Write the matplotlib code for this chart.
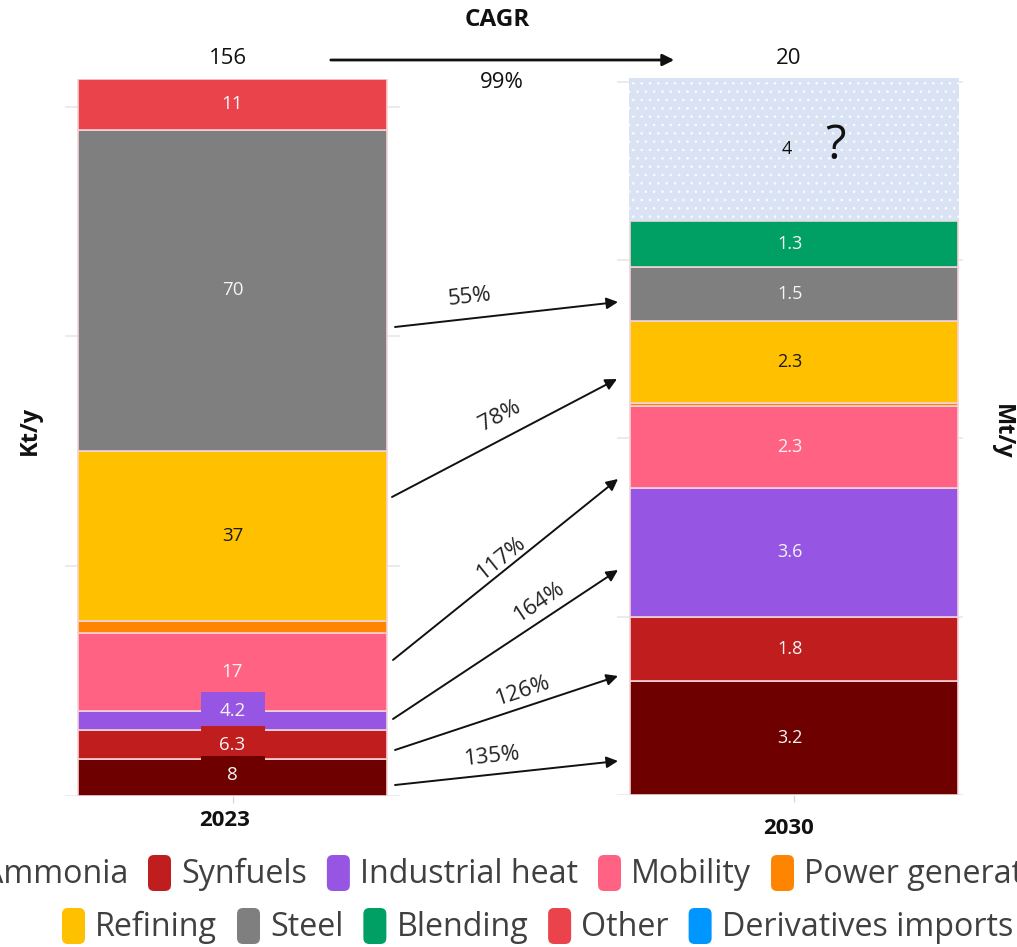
import math
import matplotlib
matplotlib.use("Agg")
import matplotlib.pyplot as plt
from matplotlib.patches import FancyBboxPatch, FancyArrowPatch, Rectangle
from matplotlib.transforms import IdentityTransform

plt.rcParams["font.family"] = ["Open Sans", "DejaVu Sans"]
plt.rcParams["hatch.linewidth"] = 0.6

# ---- data -------------------------------------------------------------
categories = ["Ammonia", "Synfuels", "Industrial heat", "Mobility",
              "Power generation", "Refining", "Steel", "Blending",
              "Other", "Derivatives imports"]
colors = ["#6f0000", "#c01e1e", "#9655e3", "#ff6283", "#ff8400",
          "#ffc000", "#7f7f7f", "#00a064", "#ea434b", "#0096ff"]
label_colors = ["#f4f4f4", "#f4f4f4", "#f4f4f4", "#f4f4f4", "#f4f4f4",
                "#1a1a1a", "#f4f4f4", "#f4f4f4", "#f4f4f4", "#f4f4f4"]

values_2023 = [8, 6.3, 4.2, 17, 2.5, 37, 70, 0, 11, 0]       # kt/y
values_2030 = [3.2, 1.8, 3.6, 2.3, 0.1, 2.3, 1.5, 1.3, 0, 0]  # Mt/y
unallocated_2030 = 4                                          # Mt/y, not yet assigned
total_2023 = 156
total_2030 = 20
years = ["2023", "2030"]
cagr_total = "99%"
cagr_labels = ["135%", "126%", "164%", "117%", "78%", "55%"]

# ---- figure -------------------------------------------------------------
W, H = 1017, 947
fig = plt.figure(figsize=(W / 100, H / 100), dpi=100)


def fx(x):
    return x / W


def fy(y):
    return 1 - y / H


GRID = "#e8e8e8"
EDGE = "#f3d3d8"


def style_axis(ax, ymax, ticks, bar_x):
    ax.set_ylim(0, ymax)
    ax.set_xlim(-0.5, 0.5)
    ax.set_yticks(ticks)
    ax.yaxis.grid(True, color=GRID, lw=1.2)
    ax.set_axisbelow(True)
    ax.tick_params(axis="y", length=0, labelleft=False)
    ax.set_xticks([bar_x])
    ax.set_xticklabels([])
    ax.tick_params(axis="x", length=5, color="#d9d9d9", width=1)
    for s in ax.spines.values():
        s.set_visible(False)


# left: 2023 in kt/y
axL = fig.add_axes([fx(65), fy(796), (400 - 65) / W, (796 - 79) / H])
style_axis(axL, total_2023, [0, 50, 100, 150], 0.0)

# right: 2030 in Mt/y
top_2030 = sum(values_2030) + unallocated_2030
axR = fig.add_axes([fx(617), fy(795), (963 - 617) / W, (795 - 78) / H])
style_axis(axR, top_2030, [0, 5, 10, 15, 20], 0.0116)

# 2023 stack
bottom = 0.0
seg_2023 = []
for v, c in zip(values_2023, colors):
    if v > 0:
        axL.bar(0.0, v, width=0.922, bottom=bottom, color=c,
                edgecolor=EDGE, linewidth=1.2, zorder=2)
    seg_2023.append((bottom, v))
    bottom += v

# 2030 stack
bottom = 0.0
seg_2030 = []
for v, c in zip(values_2030, colors):
    if v > 0:
        axR.bar(0.0116, v, width=0.948, bottom=bottom, color=c,
                edgecolor=EDGE, linewidth=1.2, zorder=2)
    seg_2030.append((bottom, v))
    bottom += v
axR.bar(0.0116, unallocated_2030, width=0.955, bottom=bottom,
        color="#dae3f3", edgecolor="#fbfcfe", linewidth=0, hatch="..",
        zorder=2)
unalloc_mid = bottom + unallocated_2030 / 2

# ---- segment labels ------------------------------------------------------
FS = 13.5
# small 2023 segments get a boxed label; offsets keep boxes from crowding
boxed_offsets = {2: 2.0, 1: 0.0, 0: 0.6}
for i in [6, 5, 8, 3]:
    b, v = seg_2023[i]
    axL.text(0.0, b + v / 2, f"{v:g}", ha="center", va="center",
             color=label_colors[i], fontsize=FS, zorder=5)
for i in [2, 1, 0]:
    b, v = seg_2023[i]
    yc = b + v / 2 + boxed_offsets[i]
    axL.add_patch(Rectangle((-0.094, yc - 4.15), 0.19, 8.3,
                            facecolor=colors[i], edgecolor="none",
                            zorder=4 + (2 - i) * 0.1))
    axL.text(0.0, yc, f"{v:g}", ha="center", va="center",
             color=label_colors[i], fontsize=FS, zorder=5)

for i, (b, v) in enumerate(seg_2030):
    if v >= 1:
        axR.text(0.0, b + v / 2, f"{v:g}", ha="center", va="center",
                 color=label_colors[i], fontsize=FS - 0.5, zorder=5)
axR.text(-0.01, unalloc_mid, f"{unallocated_2030:g}", ha="center",
         va="center", color="#111111", fontsize=FS - 0.5, zorder=5)
axR.text(0.13, unalloc_mid + 0.08, "?", ha="center", va="center",
         color="#111111", fontsize=34, zorder=5)

# ---- axis titles / totals -----------------------------------------------
fig.text(fx(225), fy(820), years[0], ha="center", va="center",
         fontsize=16, fontweight="bold", color="#111111")
fig.text(fx(789), fy(828), years[1], ha="center", va="center",
         fontsize=16, fontweight="bold", color="#111111")
fig.text(fx(30), fy(430), "Kt/y", ha="center", va="center", rotation=90,
         fontsize=17, fontweight="bold", color="#111111")
fig.text(fx(1002), fy(432), "Mt/y", ha="center", va="center",
         rotation=270, fontsize=17, fontweight="bold", color="#111111")

fig.text(fx(497), fy(20), "CAGR", ha="center", va="center",
         fontsize=17.5, fontweight="bold", color="#111111")
fig.text(fx(228), fy(58), f"{total_2023}", ha="center", va="center",
         fontsize=16, color="#111111")
fig.text(fx(789), fy(58), f"{total_2030}", ha="center", va="center",
         fontsize=16, color="#111111")
fig.text(fx(502), fy(83), cagr_total, ha="center", va="center",
         fontsize=16, color="#111111")
fig.add_artist(FancyArrowPatch((fx(328), fy(60)), (fx(677), fy(60)),
                               transform=fig.transFigure,
                               arrowstyle="-|>", mutation_scale=17,
                               lw=2.0, color="#111111"))

# ---- growth arrows between the bars --------------------------------------
arrow_paths = [((395, 785), (618, 761), (492, 757)),
               ((395, 750), (618, 676), (523, 691)),
               ((393, 719), (618, 570), (540, 602)),
               ((393, 660), (618, 479), (502, 558)),
               ((392, 497), (617, 379), (500, 416)),
               ((395, 327), (618, 302), (470, 297))]
for label, (p0, p1, pt) in zip(cagr_labels, arrow_paths):
    fig.add_artist(FancyArrowPatch((fx(p0[0]), fy(p0[1])),
                                   (fx(p1[0]), fy(p1[1])),
                                   transform=fig.transFigure,
                                   arrowstyle="-|>", mutation_scale=17,
                                   lw=1.4, color="#111111",
                                   shrinkA=0, shrinkB=0))
    ang = math.degrees(math.atan2(p0[1] - p1[1], p1[0] - p0[0]))
    fig.text(fx(pt[0]), fy(pt[1]), label, ha="center", va="center",
             rotation=ang, rotation_mode="anchor", fontsize=16,
             color="#222222")

# ---- legend ---------------------------------------------------------------
renderer = fig.canvas.get_renderer()
LFS = 23.2
PW, PH = 23, 36
GAP_IN, GAP_OUT = 10, 20


def legend_row(idx, x_start, y_center):
    x = x_start
    for i in idx:
        fig.add_artist(FancyBboxPatch((x, H - y_center - PH / 2), PW, PH,
                                      boxstyle="round,pad=0,rounding_size=6",
                                      facecolor=colors[i], edgecolor="none",
                                      transform=IdentityTransform()))
        t = fig.text(x + PW + GAP_IN, H - y_center - 1, categories[i],
                     ha="left", va="center", fontsize=LFS,
                     color="#404040", transform=IdentityTransform())
        w = t.get_window_extent(renderer).width
        x += PW + GAP_IN + w + GAP_OUT


probe = fig.text(0, 0, categories[0], fontsize=LFS)
w_first = probe.get_window_extent(renderer).width
probe.remove()
legend_row([0, 1, 2, 3, 4], 148 - GAP_OUT - w_first - GAP_IN - PW, 873)
legend_row([5, 6, 7, 8, 9], 62, 926)

fig.savefig("out.png", dpi=100, facecolor="white")
